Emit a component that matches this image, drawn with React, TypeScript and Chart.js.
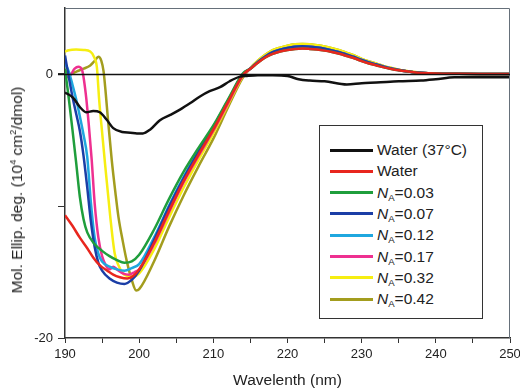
import React, { useEffect, useRef } from "react";
import { Chart, registerables } from "chart.js";

Chart.register(...registerables);

const FONT = "'Liberation Sans', Arial, Helvetica, sans-serif";
const TEXT = "#222";

// ---------- data ----------
const X_TICKS = [190, 195, 200, 205, 210, 215, 220, 225, 230, 235, 240, 245, 250];
const Y_TICKS = [-20, -10, 0];
const Y_LABELED = [0, -20];

const SERIES_LABELS = ["Water (37°C)", "Water", "0.03", "0.07", "0.12", "0.17", "0.32", "0.42"];
const SERIES_COLORS = ["#111111", "#e8261e", "#1f9e3c", "#1b3ea6", "#1fa7df", "#ee3090", "#f6ee12", "#a39d1e"];

// Water (37 °C)
const BLACK_X = [190, 191.1, 192, 192.9, 193.8, 194.7, 195.6, 196.5, 197.7, 198.8, 199.7, 200.5, 201.5, 202.8, 204.2, 205.5, 206.9, 208.2, 209.5, 210.9, 212.2, 213.6, 214.5, 216, 218, 220, 221.5, 223, 225, 228, 230, 232, 235, 238, 240, 242.5, 246, 250];
const BLACK_Y = [-1.4, -1.8, -2.5, -2.9, -2.8, -2.9, -3.45, -4.1, -4.4, -4.45, -4.5, -4.5, -4.2, -3.5, -3.1, -2.7, -2.2, -1.7, -1.3, -1.0, -0.55, -0.2, -0.15, -0.1, -0.1, -0.15, -0.4, -0.5, -0.55, -0.8, -0.7, -0.65, -0.55, -0.5, -0.4, -0.25, -0.25, -0.25];

// shared wavelength grid for the long-wavelength part (200–250 nm)
const TAIL_X = [200, 202, 204, 206, 208, 210, 212, 214, 215, 216, 217, 218, 219, 220, 221, 222, 223, 224, 225, 226, 227, 228, 229, 230, 231, 232, 233, 234, 235, 236, 237, 238, 240, 243, 246, 250];

// positive band (215–250 nm)
const POS_HIGH = [0.45, 1.0, 1.45, 1.8, 2.0, 2.15, 2.25, 2.28, 2.25, 2.18, 2.08, 1.95, 1.8, 1.6, 1.4, 1.15, 0.95, 0.78, 0.6, 0.45, 0.33, 0.23, 0.15, 0.1, 0.04, 0.01, 0, 0];
const POS_MID = [0.42, 0.92, 1.33, 1.65, 1.84, 1.98, 2.07, 2.1, 2.07, 2.0, 1.91, 1.79, 1.65, 1.47, 1.29, 1.06, 0.87, 0.72, 0.55, 0.41, 0.3, 0.21, 0.14, 0.09, 0.035, 0.01, 0, 0];
const POS_LOW = [0.4, 0.85, 1.25, 1.52, 1.7, 1.82, 1.9, 1.93, 1.9, 1.85, 1.77, 1.66, 1.53, 1.36, 1.19, 0.98, 0.8, 0.65, 0.5, 0.38, 0.28, 0.2, 0.13, 0.08, 0.03, 0.01, 0, 0];

// Water
const RED_HEAD_X = [190, 191, 192, 193, 193.8, 194.7, 195.7, 196.5, 197.4, 198.4, 199.2];
const RED_HEAD_Y = [-10.7, -11.5, -12.4, -13.2, -13.9, -14.5, -14.9, -15.2, -15.4, -15.5, -15.3];
const RED_RISE = [-14.8, -12.8, -10.4, -8.1, -6.1, -4.2, -2.1, -0.05];

// NA = 0.03
const GREEN_HEAD_X = [190, 190.5, 191, 191.5, 192, 192.5, 193, 194, 195, 196, 197, 198, 199];
const GREEN_HEAD_Y = [0.4, -1.8, -4.2, -6.7, -9.3, -11.0, -12.0, -12.9, -13.4, -13.8, -14.1, -14.3, -14.2];
const GREEN_RISE = [-13.7, -11.8, -9.5, -7.4, -5.6, -3.9, -1.9, 0.05];

// NA = 0.07
const BLUE_HEAD_X = [190, 190.5, 191, 191.5, 192, 192.5, 193, 193.5, 194, 194.5, 195, 196, 197, 198, 199];
const BLUE_HEAD_Y = [1.4, -0.2, -1.7, -3.0, -4.3, -6.2, -8.6, -11.2, -13.1, -14.3, -14.9, -15.5, -15.8, -15.9, -15.6];
const BLUE_RISE = [-14.9, -12.6, -10.1, -7.9, -5.9, -4.0, -2.0, 0.0];

// NA = 0.12
const CYAN_HEAD_X = [190, 190.5, 191, 191.5, 192, 192.5, 193, 193.5, 194, 194.5, 195, 196, 197, 198, 199];
const CYAN_HEAD_Y = [0.8, 0.2, -0.8, -1.9, -3.2, -4.6, -6.3, -9.8, -12.4, -13.6, -14.2, -14.6, -14.8, -14.9, -14.7];
const CYAN_RISE = [-14.4, -12.4, -10.0, -7.8, -5.8, -4.0, -2.0, 0.0];

// NA = 0.17
const PINK_HEAD_X = [190, 190.7, 191.3, 191.8, 192.3, 192.8, 193.2, 193.6, 194, 194.5, 195, 195.5, 196, 196.5, 197, 197.8, 198.6, 199.4];
const PINK_HEAD_Y = [-0.3, -0.1, 0.4, 0.55, 0.3, -1.5, -3.8, -6.5, -9.8, -12.4, -13.8, -14.5, -14.8, -14.6, -14.8, -15.1, -15.2, -15.0];
const PINK_RISE = [-14.8, -12.9, -10.5, -8.2, -6.2, -4.3, -2.2, -0.1];

// NA = 0.32
const YELLOW_HEAD_X = [190, 190.5, 191.5, 192.5, 193.4, 193.9, 194.3, 194.6, 194.9, 195.4, 196.1, 196.7, 197.3, 197.8, 198.5, 199.2];
const YELLOW_HEAD_Y = [1.7, 1.8, 1.85, 1.82, 1.7, 1.3, 0.5, -1.9, -3.8, -6.8, -10.8, -13.6, -14.6, -15.1, -15.3, -15.35];
const YELLOW_RISE = [-15.1, -13.3, -10.9, -8.6, -6.5, -4.5, -2.3, -0.15];

// NA = 0.42
const OLIVE_HEAD_X = [190, 190.7, 191.6, 192.5, 193.4, 194, 194.5, 194.9, 195.2, 195.5, 195.8, 196.3, 196.8, 197.2, 197.8, 198.3, 199, 199.6];
const OLIVE_HEAD_Y = [0.25, 0.0, 0.2, 0.4, 0.65, 1.0, 1.3, 1.0, 0.2, -1.5, -3.5, -6.5, -9.0, -10.8, -12.7, -14.1, -15.6, -16.4];
const OLIVE_RISE = [-16.3, -14.2, -11.6, -9.2, -7.0, -4.9, -2.5, -0.25];

// ---------- helpers ----------
const pts = (xs: number[], ys: number[]) => xs.map((x, i) => ({ x, y: ys[i] }));
const withTail = (hx: number[], hy: number[], rise: number[], pos: number[]) =>
  pts([...hx, ...TAIL_X], [...hy, ...rise, ...pos]);

const SERIES_DATA = [
  pts(BLACK_X, BLACK_Y),
  withTail(RED_HEAD_X, RED_HEAD_Y, RED_RISE, POS_LOW),
  withTail(GREEN_HEAD_X, GREEN_HEAD_Y, GREEN_RISE, POS_LOW),
  withTail(BLUE_HEAD_X, BLUE_HEAD_Y, BLUE_RISE, POS_MID),
  withTail(CYAN_HEAD_X, CYAN_HEAD_Y, CYAN_RISE, POS_MID),
  withTail(PINK_HEAD_X, PINK_HEAD_Y, PINK_RISE, POS_MID),
  withTail(YELLOW_HEAD_X, YELLOW_HEAD_Y, YELLOW_RISE, POS_HIGH),
  withTail(OLIVE_HEAD_X, OLIVE_HEAD_Y, OLIVE_RISE, POS_HIGH),
];

const framePlugin = {
  id: "frame",
  afterDatasetsDraw(chart: any) {
    const { ctx, chartArea, scales } = chart;
    const { left, right, top, bottom } = chartArea;
    ctx.save();
    ctx.strokeStyle = "#66707a";
    ctx.lineWidth = 1;
    ctx.beginPath();
    ctx.moveTo(left, top + 0.5);
    ctx.lineTo(right - 0.5, top + 0.5);
    ctx.lineTo(right - 0.5, bottom);
    ctx.stroke();
    const y0 = Math.round(scales.y.getPixelForValue(0)) + 0.5;
    ctx.strokeStyle = "#111";
    ctx.lineWidth = 1.5;
    ctx.beginPath();
    ctx.moveTo(left - 7, y0);
    ctx.lineTo(right, y0);
    ctx.stroke();
    ctx.restore();
  },
};

export default function App() {
  const ref = useRef<HTMLCanvasElement>(null);

  useEffect(() => {
    const chart = new Chart(ref.current as HTMLCanvasElement, {
      type: "line",
      data: {
        datasets: SERIES_DATA.map((d, i) => ({
          label: SERIES_LABELS[i],
          data: d,
          borderColor: SERIES_COLORS[i],
          backgroundColor: SERIES_COLORS[i],
          borderWidth: 2.5,
          pointRadius: 0,
          fill: false,
          cubicInterpolationMode: "monotone" as const,
        })),
      },
      options: {
        responsive: false,
        animation: false,
        devicePixelRatio: 1,
        layout: { padding: { left: 0, right: 10, top: 8, bottom: 0 } },
        plugins: { legend: { display: false }, tooltip: { enabled: false } },
        scales: {
          x: {
            type: "linear",
            min: 190,
            max: 250,
            afterBuildTicks: (s: any) => {
              s.ticks = X_TICKS.map((v) => ({ value: v }));
            },
            afterFit: (s: any) => {
              s.height = 54;
              s.paddingLeft = 0;
              s.paddingRight = 0;
            },
            ticks: {
              autoSkip: false,
              maxRotation: 0,
              padding: 4,
              color: TEXT,
              font: { family: FONT, size: 13 },
              callback: (v: any) => (Number(v) % 10 === 0 ? String(v) : ""),
            },
            grid: { drawOnChartArea: false, tickLength: 5, color: "#333" },
            border: { color: "#333", width: 1.5 },
          },
          y: {
            type: "linear",
            min: -20,
            max: 5,
            afterBuildTicks: (s: any) => {
              s.ticks = Y_TICKS.map((v) => ({ value: v }));
            },
            afterFit: (s: any) => {
              s.width = 65;
              s.paddingTop = 0;
              s.paddingBottom = 0;
            },
            ticks: {
              padding: 5,
              color: TEXT,
              font: { family: FONT, size: 13 },
              callback: (v: any) => (Y_LABELED.includes(Number(v)) ? String(v) : ""),
            },
            grid: { drawOnChartArea: false, tickLength: 7, color: "#333" },
            border: { color: "#333", width: 1.5 },
          },
        },
      },
      plugins: [framePlugin],
    });
    return () => chart.destroy();
  }, []);

  const rowTop = 150;
  const rowStep = 21.3;
  const sub = { fontSize: "0.62em", verticalAlign: "-0.3em", lineHeight: 0 } as React.CSSProperties;
  const sup = { fontSize: "0.6em", verticalAlign: "0.65em", lineHeight: 0 } as React.CSSProperties;

  return (
    <div
      style={{
        position: "absolute",
        left: 0,
        top: 0,
        width: 520,
        height: 392,
        background: "#fff",
        fontFamily: FONT,
        color: TEXT,
      }}
    >
      <canvas ref={ref} width={520} height={392} style={{ display: "block", width: 520, height: 392 }} />

      {/* y-axis title */}
      <div
        style={{
          position: "absolute",
          left: 17,
          top: 190,
          transform: "translate(-50%, -50%) rotate(-90deg)",
          whiteSpace: "nowrap",
          fontSize: 15.5,
          lineHeight: "18px",
        }}
      >
        Mol. Ellip. deg. (10<sup style={sup}>4</sup> cm<sup style={sup}>2</sup>/dmol)
      </div>

      {/* x-axis title */}
      <div
        style={{
          position: "absolute",
          left: 287.5,
          top: 380,
          transform: "translate(-50%, -50%)",
          whiteSpace: "nowrap",
          fontSize: 15.5,
          lineHeight: "18px",
        }}
      >
        Wavelenth (nm)
      </div>

      {/* legend */}
      <div
        style={{
          position: "absolute",
          left: 319,
          top: 125,
          width: 164,
          height: 194,
          border: "1.5px solid #333",
          boxSizing: "border-box",
          background: "#fff",
        }}
      />
      {SERIES_LABELS.map((lab, i) => {
        const cy = rowTop + i * rowStep;
        return (
          <React.Fragment key={lab}>
            <div
              style={{
                position: "absolute",
                left: 330,
                top: cy - 1.5,
                width: 43,
                height: 3,
                background: SERIES_COLORS[i],
              }}
            />
            <div
              style={{
                position: "absolute",
                left: 377,
                top: cy - 9,
                height: 18,
                lineHeight: "18px",
                fontSize: 15.5,
                whiteSpace: "nowrap",
              }}
            >
              {i < 2 ? (
                lab
              ) : (
                <>
                  <i>N</i>
                  <span style={sub}>A</span>={lab}
                </>
              )}
            </div>
          </React.Fragment>
        );
      })}
    </div>
  );
}
